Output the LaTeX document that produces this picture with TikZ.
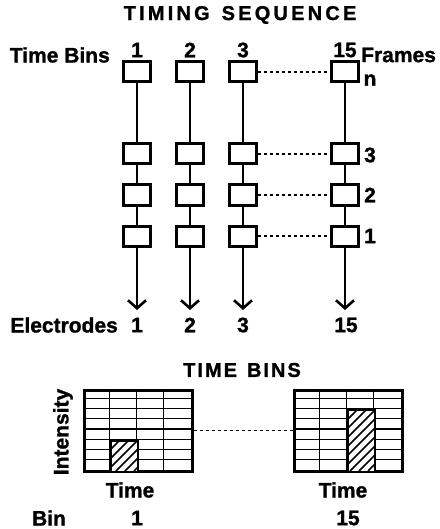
\documentclass[tikz,border=0pt]{standalone}
\usepackage{fontspec}
\setmainfont{Liberation Sans}[BoldFeatures={FakeBold=1.2}]
\usetikzlibrary{arrows.meta}
\begin{document}
\begin{tikzpicture}[x=1pt,y=-1pt,
  fbox/.style={draw, line width=3pt, minimum width=27pt, minimum height=20pt, inner sep=0pt, fill=white},
  lbl/.style={font=\fontsize{21}{24}\selectfont\bfseries, inner sep=0pt},
  ttl/.style={font=\fontsize{20}{22}\selectfont\bfseries\addfontfeatures{LetterSpace=16}, inner sep=0pt},
  ttlb/.style={font=\fontsize{20}{22}\selectfont\bfseries\addfontfeatures{LetterSpace=10}, inner sep=0pt},
  wire/.style={line width=2.8pt},
  arr/.style={line width=2.8pt, -{Straight Barb[length=8pt,width=18pt,line width=2.6pt]}},
  dots/.style={line width=1.8pt, dash pattern=on 3pt off 3pt},
  gridbox/.style={draw, line width=3pt, minimum width=108pt, minimum height=81pt, inner sep=0pt},
  thin/.style={line width=1.2pt},
  hatch/.style={line width=1.5pt}]
\useasboundingbox (0,0) rectangle (439,529);

% title
\node[ttl] (title) at (240,15) {TIMING\hspace{12pt}SEQUENCE};

% column headers
\node[lbl, anchor=east] (tb) at (110,55) {Time Bins};
\node[lbl] (h1) at (137,50) {1};
\node[lbl] (h2) at (190,50) {2};
\node[lbl] (h3) at (243,50) {3};
\node[lbl] (h15) at (345,50) {15};
\node[lbl, anchor=west] (fr) at (361,55) {Frames};
\node[lbl] (fn) at (370,80) {n};
\node[lbl] (f3) at (370,155) {3};
\node[lbl] (f2) at (370,195) {2};
\node[lbl] (f1) at (370,236) {1};

% wires and boxes
\foreach \c/\x in {1/137,2/190,3/243,15/345}{
  \node[fbox] (b\c n) at (\x,72) {};
  \node[fbox] (b\c c) at (\x,154) {};
  \node[fbox] (b\c b) at (\x,195) {};
  \node[fbox] (b\c a) at (\x,236) {};
  \coordinate (e\c) at (\x,310);
  \draw[wire] (b\c n) -- (b\c c);
  \draw[wire] (b\c c) -- (b\c b);
  \draw[wire] (b\c b) -- (b\c a);
  \draw[arr] (b\c a) -- (e\c);
}
\foreach \r in {n,c,b,a}{
  \draw[dots] (b3\r.east) -- (b15\r.west);
}

% electrodes
\node[lbl, anchor=east] (el) at (118,325) {Electrodes};
\node[lbl] (e1l) at (137,325) {1};
\node[lbl] (e2l) at (190,325) {2};
\node[lbl] (e3l) at (243,325) {3};
\node[lbl] (e15l) at (346,325) {15};

% time bins
\node[ttlb] (tbins) at (242,370) {TIME\hspace{10pt}BINS};

\node[gridbox] (gL) at (138,430.5) {};
\node[gridbox] (gR) at (348,430.5) {};

% grid internals
\foreach \i in {1,...,7}{
  \draw[thin] ([yshift=-\i*10.125pt]gL.north west) -- ([yshift=-\i*10.125pt]gL.north east);
  \draw[thin] ([yshift=-\i*10.125pt]gR.north west) -- ([yshift=-\i*10.125pt]gR.north east);
}
\foreach \j in {1,2,3}{
  \draw[thin] ([xshift=\j*27pt]gL.north west) -- ([xshift=\j*27pt]gL.south west);
  \draw[thin] ([xshift=\j*27pt]gR.north west) -- ([xshift=\j*27pt]gR.south west);
}

% hatched bars
\begin{scope}
  \clip (111,441) rectangle (138,471);
  \fill[white] (111,441) rectangle (138,471);
  \foreach \k in {-40,-31,...,40}{
    \draw[hatch] (111+\k,471) -- (151+\k,431);
  }
\end{scope}
\draw[line width=2.6pt] (111,471) -- (111,440.5) -- (138,440.5) -- (138,471);

\begin{scope}
  \clip (348,410) rectangle (375,471);
  \fill[white] (348,410) rectangle (375,471);
  \foreach \k in {-70,-61,...,40}{
    \draw[hatch] (348+\k,471) -- (418+\k,401);
  }
\end{scope}
\draw[line width=2.6pt] (348,471) -- (348,410) -- (375,410) -- (375,471);

\draw[dots] (gL.east) -- (gR.west);

\node[lbl, rotate=90] (int) at (63,432) {Intensity};
\node[lbl] (tL) at (130,490) {Time};
\node[lbl] (tR) at (343,490) {Time};
\node[lbl] (bin) at (49,518) {Bin};
\node[lbl] (bn1) at (137,518) {1};
\node[lbl] (bn15) at (348,518) {15};
\end{tikzpicture}
\end{document}
